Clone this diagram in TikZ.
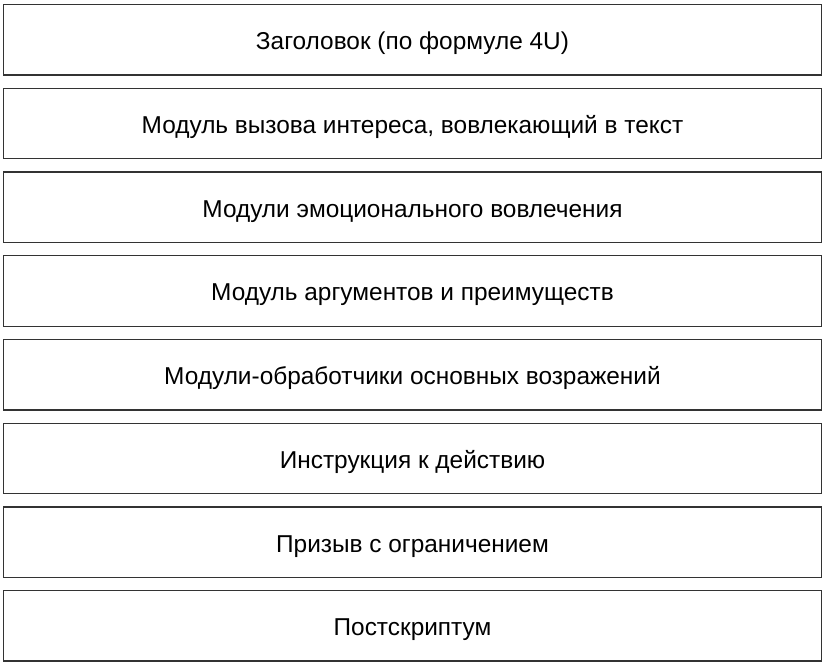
\documentclass[tikz,border=0pt]{standalone}
\usepackage{fontspec}
\setmainfont{Liberation Sans}
\begin{document}
\begin{tikzpicture}[x=1pt,y=-1pt,
  blockbox/.style={draw=black!80,line width=1.4pt,minimum width=818pt,minimum height=70.5pt,inner sep=0pt,text height=20pt,text depth=0pt,font=\fontsize{24.4}{28}\selectfont}]
\useasboundingbox[fill=white] (0,0) rectangle (823,663);
\foreach \t [count=\i from 0] in {Заголовок (по формуле 4U),Модуль вызова интереса{,} вовлекающий в текст,Модули эмоционального вовлечения,Модуль аргументов и преимуществ,Модули-обработчики основных возражений,Инструкция к действию,Призыв с ограничением,Постскриптум}{
  \node[blockbox] (b\i) at (412.5,{39.75+83.74*\i}) {\t};
}
\end{tikzpicture}
\end{document}
